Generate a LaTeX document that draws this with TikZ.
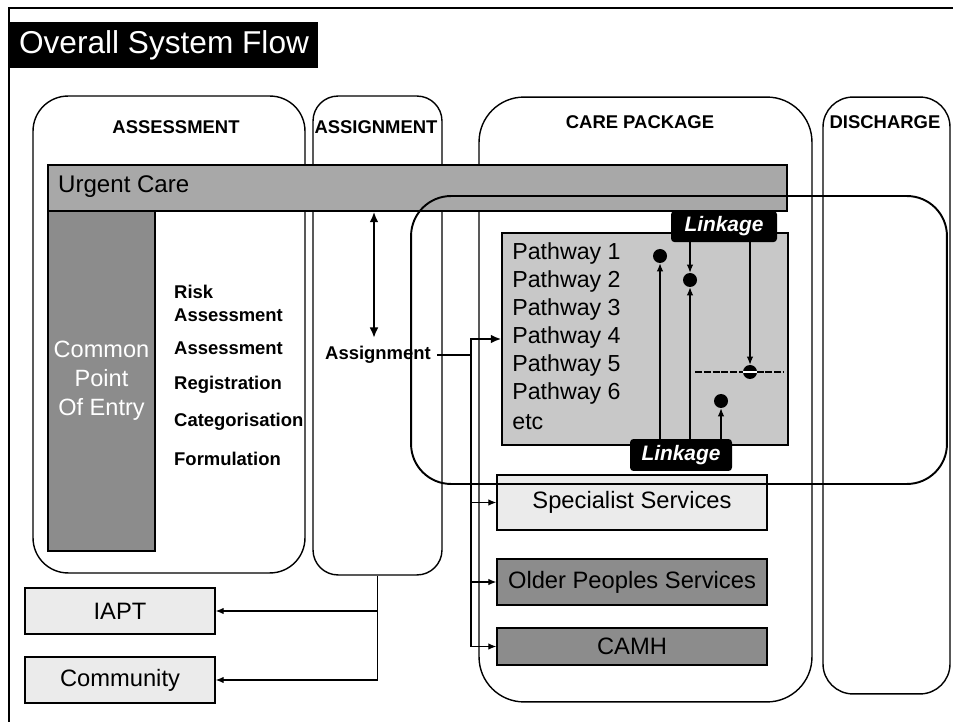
\documentclass[tikz,border=0pt]{standalone}
\usepackage{fontspec}
\setmainfont{Liberation Sans}
\usetikzlibrary{arrows.meta}
\definecolor{urgent-grey}{HTML}{A8A8A8}
\definecolor{pathway-grey}{HTML}{C8C8C8}
\definecolor{dark-grey}{HTML}{8C8C8C}
\definecolor{light-grey}{HTML}{EBEBEB}
\tikzstyle{title-node}=[fill=black,text=white,font=\fontsize{18}{20}\selectfont]
\tikzstyle{column-box}=[draw,thick,fill=white]
\tikzstyle{column-head}=[font=\bfseries\fontsize{10.5}{12}\selectfont]
\tikzstyle{urgent-bar}=[draw,thick,fill=urgent-grey]
\tikzstyle{entry-box}=[draw,thick,fill=dark-grey,text=white,align=center,font=\fontsize{13.4}{16.4}\selectfont]
\tikzstyle{task-text}=[font=\bfseries\fontsize{10.5}{13}\selectfont,align=left]
\tikzstyle{region-box}=[draw,line width=1.1pt,rounded corners=0.8cm]
\tikzstyle{pathway-box}=[draw,thick,fill=pathway-grey]
\tikzstyle{pathway-text}=[anchor=west,inner sep=0pt,font=\fontsize{13.2}{15}\selectfont]
\tikzstyle{dot-node}=[circle,fill=black,minimum size=0.28cm,inner sep=0pt]
\tikzstyle{linkage-node}=[fill=black,text=white,rounded corners=2pt,font=\bfseries\itshape\fontsize{11.9}{13}\selectfont]
\tikzstyle{light-box}=[draw,thick,fill=light-grey,font=\fontsize{13.5}{15}\selectfont]
\tikzstyle{dark-box}=[draw,thick,fill=dark-grey,font=\fontsize{13.5}{15}\selectfont]
\tikzstyle{thin-line}=[draw=black,line width=0.6pt]
\tikzstyle{thick-line}=[draw=black,line width=1.6pt]

\begin{document}
\begin{tikzpicture}[x=0.02cm,y=-0.02cm]
	\useasboundingbox (0,0) rectangle (953,722);
	\draw[line width=1pt] (9,722) -- (9,8) -- (953,8);
	\node (title)[title-node, minimum width=6.16cm, minimum height=0.92cm] at (164,45) {Overall System Flow};
	
	% columns
	\begin{scope}
	\node (assessment)[column-box, rounded corners=0.7cm, minimum width=5.44cm, minimum height=9.54cm] at (169,334.5) {};
	\node (assignment)[column-box, rounded corners=0.5cm, minimum width=2.58cm, minimum height=9.58cm] at (377.5,335.5) {};
	\node (care)[column-box, rounded corners=0.9cm, minimum width=6.66cm, minimum height=12.1cm] at (645.5,399.5) {};
	\node (discharge)[column-box, rounded corners=0.6cm, minimum width=2.54cm, minimum height=11.94cm] at (886.5,395.5) {};
	
	\node (assessment-head)[column-head] at (176,127) {ASSESSMENT};
	\node (assignment-head)[column-head] at (376,127) {ASSIGNMENT};
	\node (care-head)[column-head] at (640,122) {CARE PACKAGE};
	\node (discharge-head)[column-head] at (885,122) {DISCHARGE};
	\end{scope}
	
	% assessment side
	\node (urgent)[urgent-bar, minimum width=14.78cm, minimum height=0.92cm] at (417.5,188) {};
	\node (urgent-text)[anchor=west, font=\fontsize{13.7}{15}\selectfont] at (52,187) {Urgent Care};
	\node (entry)[entry-box, minimum width=2.14cm, minimum height=6.8cm] at (101.5,381) {Common\\Point\\Of Entry};
	
	\node (risk)[task-text, anchor=west] at (168,303.5) {Risk\\Assessment};
	\node (assess)[task-text, anchor=west] at (168,348) {Assessment};
	\node (register)[task-text, anchor=west] at (168,385) {Registration};
	\node (categorise)[task-text, anchor=west] at (168,422) {Categorisation};
	\node (formulate)[task-text, anchor=west] at (168,459) {Formulation};
	
	\node (iapt)[light-box, minimum width=3.8cm, minimum height=0.92cm] at (120,611) {IAPT};
	\node (community)[light-box, minimum width=3.8cm, minimum height=0.92cm] at (120,680) {Community};
	
	% services
	\node (specialist)[light-box, minimum width=5.4cm, minimum height=1.1cm] at (632,502.5) {Specialist Services};
	\node (older)[dark-box, minimum width=5.4cm, minimum height=0.92cm] at (632,582) {Older Peoples Services};
	\node (camh)[dark-box, minimum width=5.4cm, minimum height=0.74cm] at (632,646.5) {CAMH};
	
	% linkage region
	\node (region)[region-box, minimum width=10.72cm, minimum height=5.76cm] at (679,340) {};
	\node (pathways)[pathway-box, minimum width=5.72cm, minimum height=4.24cm] at (645,339) {};
	\node (pathway-1)[pathway-text] at (512,254) {Pathway 1};
	\node (pathway-2)[pathway-text] at (512,282) {Pathway 2};
	\node (pathway-3)[pathway-text] at (512,310) {Pathway 3};
	\node (pathway-4)[pathway-text] at (512,338) {Pathway 4};
	\node (pathway-5)[pathway-text] at (512,366) {Pathway 5};
	\node (pathway-6)[pathway-text] at (512,394) {Pathway 6};
	\node (pathway-etc)[pathway-text] at (512,422) {etc};
	
	\coordinate (cross-left) at (695,372);
	\coordinate (cross-right) at (783,372);
	\draw[thin-line, dash pattern=on 4pt off 1pt] (cross-left) -- (cross-right);
	
	\node (dot-1)[dot-node] at (660,256) {};
	\node (dot-2)[dot-node] at (690,280) {};
	\node (dot-5)[dot-node] at (750,372) {};
	\node (dot-6)[dot-node] at (721,401) {};
	\draw[white, line width=1pt] (dot-5.west) -- (dot-5.east);
	
	\node (linkage-top)[linkage-node, minimum width=2.12cm, minimum height=0.58cm] at (724,226.5) {Linkage};
	\node (linkage-bottom)[linkage-node, minimum width=2.04cm, minimum height=0.64cm] at (681,455) {Linkage};
	
	\begin{scope}[>={Latex[length=4.5pt,width=3.6pt]}, every edge/.style=thin-line]
	\path [->] (dot-1 |- linkage-bottom.north) edge (dot-1);
	\path [->] (dot-2 |- linkage-bottom.north) edge (dot-2);
	\path [->] (dot-6 |- linkage-bottom.north) edge (dot-6);
	\path [->] (dot-2 |- linkage-top.south) edge (dot-2);
	\path [->] (dot-5 |- linkage-top.south) edge (dot-5);
	\end{scope}
	
	% assignment
	\coordinate (assign-arrow) at (374,338);
	\coordinate (junction) at (471,355);
	\node (assign-label)[task-text] at (378,355) {Assignment};
	
	\begin{scope}[>={Latex[length=6pt,width=5pt]}]
	\path [<->, line width=1.2pt] (assign-arrow |- urgent.south) edge (assign-arrow);
	\draw[thick-line] (assign-label.east) -- (junction);
	\draw[thick-line, ->] (junction) |- (pathways.west);
	\end{scope}
	
	\begin{scope}[>={Latex[length=4.5pt,width=3.6pt]}, every edge/.style=thin-line]
	\draw[thin-line] (junction) -- (junction |- camh.west);
	\path [->] (junction |- specialist.west) edge (specialist.west);
	\path [->] (junction |- older.west) edge (older.west);
	\path [->] (junction |- camh.west) edge (camh.west);
	\draw[thin-line] (assignment.south) -- (assignment.south |- community.east);
	\path [->] (assignment.south |- iapt.east) edge (iapt.east);
	\path [->] (assignment.south |- community.east) edge (community.east);
	\end{scope}
\end{tikzpicture}
\end{document}
